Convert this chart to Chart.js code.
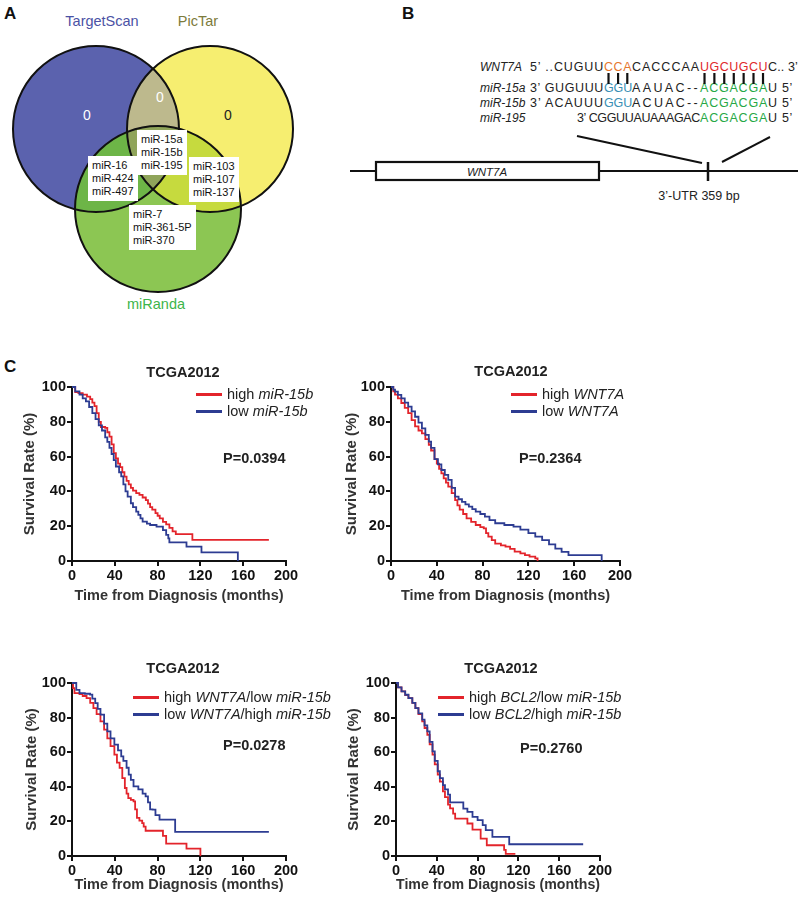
<!DOCTYPE html>
<html>
<head>
<meta charset="utf-8">
<script src="https://cdn.jsdelivr.net/npm/chart.js@4"></script>
<style>
  body { margin: 0; background: #fff; font-family: "Liberation Sans", Arial, sans-serif; }
  #page { position: relative; width: 800px; height: 899px; overflow: hidden; background: #fff; }
  .abs { position: absolute; white-space: nowrap; }
  .panel { font-weight: bold; font-size: 17px; color: #111; }
  .ttl { font-weight: bold; font-size: 14.5px; color: #222; transform: translateX(-50%); line-height: 16px; }
  .leg { font-size: 14.5px; color: #222; line-height: 16px; }
  .legline { position: absolute; height: 3px; }
  .pval { font-weight: bold; font-size: 14.5px; color: #222; line-height: 16px; }
  .seq { font-size: 12.5px; color: #222; line-height: 14px; }
  .lab { font-size: 12px; font-style: italic; color: #222; line-height: 14px; }
  .box { position: absolute; background: #fff; font-size: 11px; line-height: 13px; color: #111; padding: 3px 4px; white-space: nowrap; }
</style>
</head>
<body>
<div id="page">
  <div class="abs panel" style="left:4px;top:4px">A</div>
  <div class="abs panel" style="left:402px;top:4px">B</div>
  <div class="abs panel" style="left:4px;top:357px">C</div>
</div>
<script>
// ---- panel A: venn ----
const vennSets = ['TargetScan', 'PicTar', 'miRanda'];
const vennOnly = ['0', '0', '0'];          // TargetScan only, TargetScan∩PicTar, PicTar only
const vennCenter = ['miR-15a', 'miR-15b', 'miR-195'];
const vennTsMir = ['miR-16', 'miR-424', 'miR-497'];
const vennPtMir = ['miR-103', 'miR-107', 'miR-137'];
const vennMir = ['miR-7', 'miR-361-5P', 'miR-370'];

// ---- panel B: sequences (text, colour index) ----
const seqRows = ['WNT7A', 'miR-15a', 'miR-15b', 'miR-195'];
const seqWnt = [['5\u2019 ..CUGUU', 0], ['CCA', 1], ['CACCCAA', 0], ['UGCUGCU', 2], ['C.. 3\u2019', 0]];
const seq15a = [['3\u2019 GUGUUU', 0], ['GGU', 3], ['AAUAC--', 0], ['ACGACGA', 4], ['U 5\u2019', 0]];
const seq15b = [['3\u2019 ACAUUU', 0], ['GGU', 3], ['ACUAC--', 0], ['ACGACGA', 4], ['U 5\u2019', 0]];
const seq195 = [['3\u2019 CGGUUAUAAAGAC', 0], ['ACGACGA', 4], ['U 5\u2019', 0]];
const utrLabel = '3\u2019-UTR 359 bp';

// ---- panel C: Kaplan-Meier curves [months, survival %] ----
const km1High = [[0,100],[3,97],[6,96.5],[10,95.6],[14,94.5],[17,93],[19,91],[21,89],[23,85],[25,80],[27,77],[31,76.5],[33,74],[35,71.5],[37,67],[39,62],[41,59],[43,56],[45,54],[47,51],[49,48.5],[51,46],[53,44],[55,42],[57,40.5],[60,39],[63,38],[66,36.5],[69,35],[71,33],[73,31],[75,29.5],[78,27.5],[80,26],[82,24.5],[85,22.5],[88,21],[91,19],[94,17],[97,15.4],[112.5,12.1],[184,12.1]];
const km1Low = [[0,100],[3,97.5],[7,95.6],[10,93.5],[13,91.7],[16,88.5],[19,85],[22,81.5],[25,78],[28,75],[31,71],[33,68.5],[35,65],[37,61.5],[39,58],[41,54.3],[44,51],[46,48.6],[48,44],[50,40],[52,37],[55,33.2],[57,31],[60,28.4],[62,26.5],[64,24.5],[66,22.6],[70,21.5],[73,20.7],[79,19.8],[85,17.8],[88,15],[90,13],[91,10.7],[107,8.3],[121,5],[155,0]];
const km2High = [[0,100],[2,97.5],[3.5,95.6],[6,93.5],[9,90.8],[12,88],[15,85],[18,81],[21,77.4],[24,75],[27,73.4],[30,70],[33,66.7],[35,63.5],[38,58.5],[40,56],[42,53],[44,50.4],[46,47.5],[48,45],[50,42.7],[53,39],[56,35],[58,32],[60,29.5],[63,27],[66,24.5],[70,22.5],[74,20.7],[78,19.5],[81,18.8],[83,16],[85,14],[88,12],[91,10],[96,9],[100,8.3],[104,7],[108,5.4],[113,4.4],[117,3.4],[121,2.5],[126,1.5],[128,0]];
const km2Low = [[0,100],[2,98.5],[3.5,97.3],[6,95.5],[9,93.5],[12,91],[15,88.7],[18,86],[21,82.9],[24,79.5],[27,76.2],[30,72.5],[33,68.6],[35,65],[38,58.5],[41,55.5],[44,52.3],[47,49.5],[50,46.6],[53,42],[56,37],[59,35.5],[62,34],[65,32.5],[68,31.2],[71,29.8],[74,28.4],[78,27],[82,25.5],[86,23.5],[91,21.7],[99,20.7],[107,19.8],[113,18],[120,16],[126,14],[132,12],[138,9.5],[143.5,7.1],[149,5.2],[155,3.4],[184,0]];
const km3High = [[0,100],[1,97],[2.3,94.2],[7,93.6],[10,92.5],[13.6,91.3],[17,88.5],[20,85.5],[23,82],[26.6,77.8],[30,73],[33,68],[36,63.5],[39.6,58.6],[42,54],[44.5,50.9],[47,45],[49.4,39.3],[51,36],[52.6,33.5],[55,32.5],[57.5,31.6],[59,27],[60.7,22],[63,20.5],[65.6,19],[67,17],[68.8,14.6],[85,11.6],[88,7.2],[107,4.3],[120,0]];
const km3Low = [[0,100],[4,96],[7,94.2],[12,93.8],[16.9,93.3],[19,91],[21.7,88.4],[24,85],[26.6,81.7],[30,76.5],[33,72],[36,68],[39.6,64.4],[43,61],[46,57.6],[48,55],[51,51],[53,47],[55,44],[57.5,40.3],[62,38.5],[66,36],[68.8,34.5],[71,31],[73,27],[75.3,26.8],[78,23.6],[81.8,21],[96.4,13.9],[184,13.9]];
const km4High = [[0,100],[2,97.5],[5.4,95.2],[9,93],[12.2,91.3],[16,88.5],[19,85.5],[22,82],[25.7,77.8],[28,74],[30.7,70],[33,64.5],[35.8,58.6],[38,53],[40.9,47],[43,43],[46,37.4],[48,34],[51,29.7],[53,27.5],[56,24.5],[58,21.6],[70,18.8],[75,15.3],[83,10],[89,6.2],[106,3.5],[107.6,1.2],[117,1.2]];
const km4Low = [[0,100],[2,97.5],[5.4,95.2],[9,93.2],[12.2,91.3],[16,88.5],[19,85.5],[22,82.5],[25.7,78.8],[28,75.5],[30.7,72],[33,66],[35.8,60.5],[38,55],[40.9,49],[43,45],[46,41],[48,38.5],[51,35.5],[53,31],[66,27.4],[70,25.5],[75,22.6],[80,20.7],[85,17.8],[88,14.9],[94.5,11],[111,6.8],[183.5,6.8]];

const kmTitles = ['TCGA2012', 'TCGA2012', 'TCGA2012', 'TCGA2012'];
const kmPvals = ['P=0.0394', 'P=0.2364', 'P=0.0278', 'P=0.2760'];
// legend entries: [plain, italic, plain, italic]
const kmLegends = [
  [['high ', 'miR-15b'], ['low ', 'miR-15b']],
  [['high ', 'WNT7A'], ['low ', 'WNT7A']],
  [['high ', 'WNT7A', '/low ', 'miR-15b'], ['low ', 'WNT7A', '/high ', 'miR-15b']],
  [['high ', 'BCL2', '/low ', 'miR-15b'], ['low ', 'BCL2', '/high ', 'miR-15b']]
];
const xTicksMax = 200, yTicksMax = 100;

const RED = '#E3242B', BLUE = '#2D3C92';
const page = document.getElementById('page');
const NS = 'http://www.w3.org/2000/svg';

function el(tag, attrs, parent) {
  const e = document.createElementNS(NS, tag);
  for (const k in attrs) e.setAttribute(k, attrs[k]);
  if (parent) parent.appendChild(e);
  return e;
}
function div(cls, css, html) {
  const d = document.createElement('div');
  d.className = cls;
  d.style.cssText = css;
  if (html !== undefined) d.innerHTML = html;
  page.appendChild(d);
  return d;
}

// ---------------- Venn ----------------
const svgA = el('svg', {width: 310, height: 320, style: 'position:absolute;left:0;top:0'});
page.appendChild(svgA);
const R = 83;
const circ = [
  {cx: 96, cy: 129, fill: '#5B62AE'},
  {cx: 210, cy: 129, fill: '#F6EE70'},
  {cx: 158, cy: 209, fill: '#8CC653'}
];
const defs = el('defs', {}, svgA);
circ.forEach((c, i) => {
  const cp = el('clipPath', {id: 'vc' + i}, defs);
  el('circle', {cx: c.cx, cy: c.cy, r: R}, cp);
});
circ.forEach(c => el('circle', {cx: c.cx, cy: c.cy, r: R, fill: c.fill}, svgA));
el('circle', {cx: circ[1].cx, cy: circ[1].cy, r: R, fill: '#BDB98D', 'clip-path': 'url(#vc0)'}, svgA);
el('circle', {cx: circ[2].cx, cy: circ[2].cy, r: R, fill: '#6DB547', 'clip-path': 'url(#vc0)'}, svgA);
el('circle', {cx: circ[2].cx, cy: circ[2].cy, r: R, fill: '#C6DA3E', 'clip-path': 'url(#vc1)'}, svgA);
const g3 = el('g', {'clip-path': 'url(#vc0)'}, svgA);
el('circle', {cx: circ[2].cx, cy: circ[2].cy, r: R, fill: '#8FA45A', 'clip-path': 'url(#vc1)'}, g3);
circ.forEach(c => el('circle', {cx: c.cx, cy: c.cy, r: R, fill: 'none', stroke: '#111', 'stroke-width': 2}, svgA));

function svgText(t, x, y, size, color, parent) {
  const e = el('text', {x, y, 'font-size': size, fill: color, 'text-anchor': 'middle', 'dominant-baseline': 'central', 'font-family': 'Liberation Sans, Arial, sans-serif'}, parent || svgA);
  e.textContent = t;
  return e;
}
svgText(vennSets[0], 102, 21, 14.5, '#4B52A5');
svgText(vennSets[1], 198, 21, 14.5, '#7D7B3B');
svgText(vennSets[2], 156, 304, 14.5, '#3DB54A');
svgText(vennOnly[0], 87, 115, 14, '#fff');
svgText(vennOnly[1], 160, 97, 14, '#fff');
svgText(vennOnly[2], 228, 115, 14, '#222');

function vennBox(list, x, y) {
  div('box', `left:${x}px;top:${y}px`, list.join('<br>'));
}
vennBox(vennCenter, 137, 130);
vennBox(vennTsMir, 88, 156);
vennBox(vennPtMir, 189, 157);
vennBox(vennMir, 129, 205);

// ---------------- panel B ----------------
const seqColors = ['#222', '#E5772F', '#E0282A', '#3A8FB5', '#27A846'];
const rowY = [67, 88, 103, 118];
const rowSeq = [seqWnt, seq15a, seq15b, seq195];
// segment edges in page px, so paired bases line up column-wise
const rowEdges = [
  [530, 604, 632, 700, 768, 798],
  [530, 604, 632, 700, 768, 793],
  [530, 604, 632, 700, 768, 793],
  [577, 700, 768, 793]
];
const pairChars = [];
seqRows.forEach((name, i) => {
  div('abs lab', `left:480px;top:${rowY[i] - 7}px`, name);
  rowSeq[i].forEach(([txt, col], k) => {
    const x0 = rowEdges[i][k], x1 = rowEdges[i][k + 1];
    const d = div('abs seq', `left:${x0}px;top:${rowY[i] - 7}px;color:${seqColors[col]}`);
    for (const ch of txt) {
      const s = document.createElement('span');
      s.textContent = ch;
      d.appendChild(s);
      if (i === 0 && col > 0) pairChars.push(s);
    }
    const w = d.getBoundingClientRect().width;
    d.style.letterSpacing = ((x1 - x0 - w) / txt.length) + 'px';
  });
});

const svgB = el('svg', {width: 470, height: 230, style: 'position:absolute;left:330px;top:0'});
page.appendChild(svgB);
const pageRect = page.getBoundingClientRect();
pairChars.forEach(s => {
  const r = s.getBoundingClientRect();
  const cx = (r.left + r.right) / 2 - parseFloat(getComputedStyle(s.parentNode).letterSpacing || 0) / 2 - pageRect.left - 330;
  el('line', {x1: cx, y1: 73, x2: cx, y2: 84, stroke: '#111', 'stroke-width': 2.2}, svgB);
});
// gene schematic
el('line', {x1: 20, y1: 171, x2: 468, y2: 171, stroke: '#111', 'stroke-width': 2.2}, svgB);
el('rect', {x: 46, y: 162, width: 223, height: 18, fill: '#fff', stroke: '#111', 'stroke-width': 2.2}, svgB);
const gt = svgText('WNT7A', 157, 171.5, 11.5, '#222', svgB);
gt.setAttribute('font-style', 'italic');
el('line', {x1: 378, y1: 162, x2: 378, y2: 181, stroke: '#111', 'stroke-width': 2.5}, svgB);
el('line', {x1: 247, y1: 136, x2: 372, y2: 163, stroke: '#111', 'stroke-width': 2}, svgB);
el('line', {x1: 440, y1: 137, x2: 392, y2: 162, stroke: '#111', 'stroke-width': 2}, svgB);
svgText(utrLabel, 369, 196, 12.5, '#222', svgB);

// ---------------- panel C ----------------
function makeKm(i, high, low, box, area, yTitlePad) {
  const c = document.createElement('canvas');
  c.width = box.w; c.height = box.h;
  c.style.cssText = `position:absolute;left:${box.x}px;top:${box.y}px;width:${box.w}px;height:${box.h}px`;
  page.appendChild(c);
  const yWidth = area.left - box.x;
  const xHeight = box.y + box.h - area.bottom;
  const tickFont = {family: '"Liberation Sans", Arial', size: 14.5, weight: 'bold'};
  const titleFont = {family: '"Liberation Sans", Arial', size: 14.5, weight: 'bold'};
  const axisGrid = {display: true, drawOnChartArea: false, drawTicks: true, tickLength: 5, color: '#111', lineWidth: 2};
  new Chart(c, {
    type: 'line',
    data: {
      datasets: [
        {label: 'low', data: low.map(p => ({x: p[0], y: p[1]})), borderColor: BLUE, borderWidth: 1.8, stepped: 'before', pointRadius: 0, fill: false, clip: 6},
        {label: 'high', data: high.map(p => ({x: p[0], y: p[1]})), borderColor: RED, borderWidth: 1.8, stepped: 'before', pointRadius: 0, fill: false, clip: 6}
      ]
    },
    options: {
      responsive: false,
      animation: false,
      devicePixelRatio: 1,
      layout: {padding: {top: area.top - box.y, right: box.x + box.w - area.right, left: 0, bottom: 0}},
      plugins: {legend: {display: false}, tooltip: {enabled: false}},
      scales: {
        x: {
          type: 'linear', min: 0, max: xTicksMax,
          ticks: {stepSize: 40, color: '#111', font: tickFont, padding: 1, maxRotation: 0},
          grid: axisGrid,
          border: {display: true, color: '#111', width: 2},
          title: {display: true, text: 'Time from Diagnosis (months)', color: '#333', font: titleFont, padding: {top: 0, bottom: 5}},
          afterFit: s => { s.height = xHeight; }
        },
        y: {
          type: 'linear', min: 0, max: yTicksMax,
          ticks: {stepSize: 20, color: '#111', font: tickFont, padding: 1},
          grid: axisGrid,
          border: {display: true, color: '#111', width: 2},
          title: {display: true, text: 'Survival Rate (%)', color: '#333', font: {family: '"Liberation Sans", Arial', size: 15, weight: 'bold'}, padding: {top: yTitlePad, bottom: 0}},
          afterFit: s => { s.width = yWidth; }
        }
      }
    }
  });
}

makeKm(0, km1High, km1Low, {x: 0, y: 340, w: 310, h: 270}, {left: 72, right: 286, top: 387, bottom: 561}, 21);
makeKm(1, km2High, km2Low, {x: 320, y: 340, w: 322, h: 270}, {left: 391, right: 620, top: 387, bottom: 561}, 23);
makeKm(2, km3High, km3Low, {x: 0, y: 636, w: 310, h: 263}, {left: 72, right: 286, top: 683, bottom: 856}, 23);
makeKm(3, km4High, km4Low, {x: 320, y: 636, w: 300, h: 263}, {left: 396, right: 600, top: 683, bottom: 856}, 25);

const titlePos = [[183, 364], [511, 363], [183, 660], [501, 660]];
const legPos = [[196, 394], [511, 394], [133, 697], [438, 697]];
const pPos = [[223, 450], [519, 450], [223, 737], [520, 740]];
for (let i = 0; i < 4; i++) {
  div('abs ttl', `left:${titlePos[i][0]}px;top:${titlePos[i][1]}px`, kmTitles[i]);
  div('abs pval', `left:${pPos[i][0]}px;top:${pPos[i][1]}px`, kmPvals[i]);
  kmLegends[i].forEach((parts, j) => {
    const y = legPos[i][1] + j * 17;
    div('legline', `left:${legPos[i][0]}px;top:${y - 1.5}px;width:26px;background:${j ? BLUE : RED}`);
    const html = parts.map((p, k) => k % 2 ? `<i>${p}</i>` : p).join('');
    div('abs leg', `left:${legPos[i][0] + 31}px;top:${y - 8}px`, html);
  });
}
</script>
</body>
</html>
